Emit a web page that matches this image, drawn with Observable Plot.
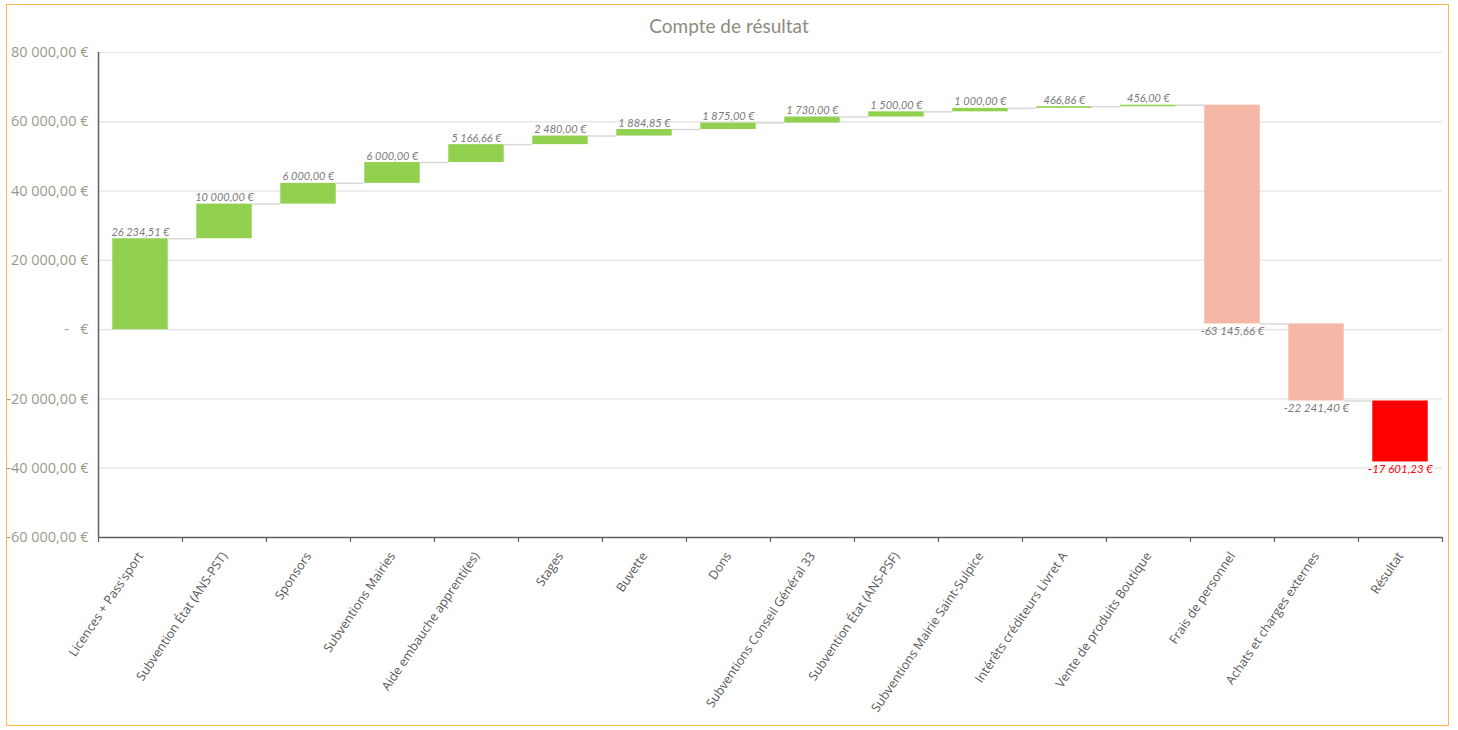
<!DOCTYPE html>
<html>
<head>
<meta charset="utf-8">
<script src="https://cdn.jsdelivr.net/npm/d3@7"></script>
<script src="https://cdn.jsdelivr.net/npm/@observablehq/plot@0.6"></script>
<style>
  html, body { margin: 0; padding: 0; background: #fff; }
  #wrap { position: relative; width: 1458px; height: 730px; overflow: hidden; }
  #frame { position: absolute; left: 6px; top: 4px; width: 1443px; height: 722px; border: 1.5px solid #F8BC4C; box-sizing: border-box; pointer-events: none; }
  #title { position: absolute; left: 0; top: 14px; width: 1458px; text-align: center; font-family: Lato, "Open Sans", sans-serif; font-size: 19px; color: #8c8c7d; }
  #chart { position: absolute; left: 0; top: 0; }
</style>
</head>
<body>
<div id="wrap">
  <div id="chart"></div>
  <div id="title">Compte de résultat</div>
  <div id="frame"></div>
</div>
<script>
const categories = [
  "Licences + Pass'sport",
  "Subvention État (ANS-PST)",
  "Sponsors",
  "Subventions Mairies",
  "Aide embauche apprenti(es)",
  "Stages",
  "Buvette",
  "Dons",
  "Subventions Conseil Général 33",
  "Subvention État (ANS-PSF)",
  "Subventions Mairie Saint-Sulpice",
  "Intérêts créditeurs Livret A",
  "Vente de produits Boutique",
  "Frais de personnel",
  "Achats et charges externes",
  "Résultat"
];
const values = [26234.51, 10000, 6000, 6000, 5166.66, 2480, 1884.85, 1875, 1730, 1500, 1000, 466.86, 456, -63145.66, -22241.40, -17601.23];
const kinds = ["gain","gain","gain","gain","gain","gain","gain","gain","gain","gain","gain","gain","gain","loss","loss","total"];
const yTicks = [-60000, -40000, -20000, 0, 20000, 40000, 60000, 80000];

const colors = {gain: "#92D050", loss: "#F5B7A6", total: "#FF0000"};

const loc = d3.formatLocale({decimal: ",", thousands: "\u00a0", grouping: [3], currency: ["", "\u00a0€"], minus: "-"});
const fmt = loc.format(",.2f");

let run = 0;
const data = categories.map((c, i) => {
  const start = run;
  run += values[i];
  return {i, name: c, value: values[i], start, end: run, kind: kinds[i]};
});
const connectors = data.slice(0, -1).map(d => ({i: d.i, y: d.end}));

const chart = Plot.plot({
  width: 1458,
  height: 730,
  marginLeft: 98,
  marginRight: 16,
  marginTop: 52,
  marginBottom: 193,
  style: {fontFamily: "'Open Sans', sans-serif", background: "transparent"},
  x: {type: "linear", domain: [0, categories.length]},
  y: {domain: [-60000, 80000]},
  marks: [
    Plot.gridY(yTicks, {stroke: "#e3e3e3", strokeOpacity: 1, strokeWidth: 1.2}),
    Plot.rectY(data, {x1: d => d.i + 0.17, x2: d => d.i + 0.83, y1: "start", y2: "end", fill: d => colors[d.kind]}),
    Plot.ruleY(connectors, {x1: d => d.i + 0.83, x2: d => d.i + 1.17, y: "y", stroke: "#d9d9d9", strokeWidth: 1.5}),
    Plot.text(data.filter(d => d.value >= 0), {
      x: d => d.i + 0.5, y: "end", text: d => fmt(d.value) + "\u00a0€",
      lineAnchor: "bottom", dy: -3, fill: "#7a7a7a", fontSize: 11, fontStyle: "italic", fontFamily: "Lato, sans-serif"
    }),
    Plot.text(data.filter(d => d.value < 0), {
      x: d => d.i + 0.5, y: "end", text: d => fmt(d.value) + "\u00a0€",
      lineAnchor: "top", dy: 3, fill: d => d.kind === "total" ? "#FF0000" : "#7a7a7a",
      fontSize: 11.5, fontStyle: "italic", fontFamily: "Lato, sans-serif"
    }),
    Plot.axisY({
      ticks: yTicks, tickSize: 0, tickPadding: 10, fontSize: 14.5, fill: "#9b9b8c", fontFamily: "'Open Sans', sans-serif",
      tickFormat: d => d === 0 ? "-\u00a0\u00a0\u00a0€" : fmt(d) + "\u00a0€"
    }),
    Plot.ruleX([0], {stroke: "#5f5f5f", strokeWidth: 1.5}),
    Plot.ruleY([-60000], {stroke: "#5f5f5f", strokeWidth: 1.5}),
    Plot.axisX({
      ticks: d3.range(0, categories.length + 1), tickSize: 5, tickFormat: () => "", stroke: "#5f5f5f", strokeWidth: 1.2
    }),
    Plot.axisX({
      ticks: d3.range(0, categories.length).map(i => i + 0.5), tickSize: 0, tickPadding: 16,
      tickRotate: -56, fontSize: 12.5, fill: "#595959", fontFamily: "'Open Sans', sans-serif",
      tickFormat: d => categories[Math.round(d - 0.5)]
    })
  ]
});
document.getElementById("chart").appendChild(chart);
</script>
</body>
</html>
